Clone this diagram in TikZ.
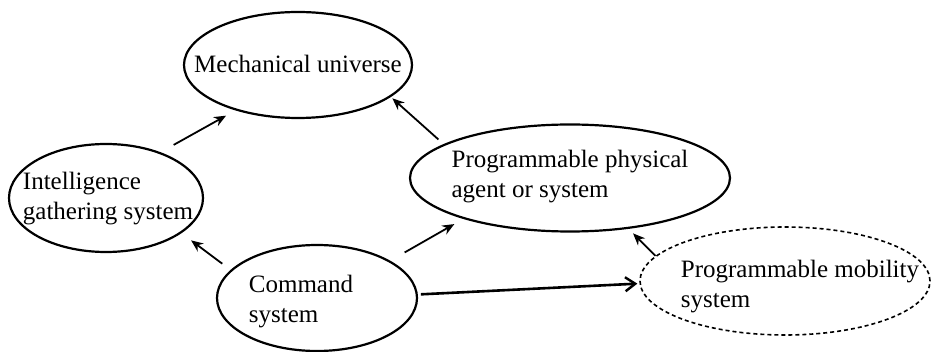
\documentclass[tikz,border=0pt]{standalone}
\usepackage{fontspec}
\setmainfont{Liberation Serif}
\usetikzlibrary{shapes.geometric,arrows.meta}

\begin{document}
\begin{tikzpicture}[x=0.5pt,y=-0.5pt,
  blob/.style={ellipse, draw, line width=1.1pt, inner sep=0pt},
  words/.style={align=left, font=\fontsize{12.5}{15}\selectfont, inner sep=0pt},
  link/.style={-{Stealth[length=6pt,width=5pt]}, line width=0.9pt}]
  \useasboundingbox (0,0) rectangle (931,352);
  % the five parts
  \node[blob, minimum width=114pt, minimum height=53pt] (mech) at (298,65) {};
  \node[words] (mechtext) at (298,64) {Mechanical universe};
  \node[blob, minimum width=97pt, minimum height=54pt] (intel) at (106,198) {};
  \node[words] (inteltext) at (108,199) {Intelligence\\gathering system};
  \node[blob, minimum width=160pt, minimum height=53.5pt] (phys) at (570,178) {};
  \node[words] (phystext) at (570,177) {Programmable physical\\agent or system};
  \node[blob, minimum width=100pt, minimum height=53pt] (cmd) at (317,298) {};
  \node[words] (cmdtext) at (301,302) {Command\\system};
  \node[blob, dashed, dash pattern=on 2pt off 1.5pt, line width=0.8pt,
        minimum width=145pt, minimum height=54pt] (mob) at (785,281) {};
  \node[words] (mobtext) at (800,287) {Programmable mobility\\system};
  % links
  \draw[link, shorten <=7.5pt, shorten >=5.4pt] (intel.40.7) -- (mech.216.1);
  \draw[link, shorten <=3.5pt, shorten >=1pt] (phys.165) -- (mech.341);
  \draw[link, shorten <=5.2pt, shorten >=6pt] (cmd.162) -- (intel.335);
  \draw[link, shorten <=8.3pt, shorten >=5.2pt] (cmd.27.6) -- (phys.201);
  \draw[link, -{Straight Barb[length=5pt,width=7pt,line width=1.2pt]}, line width=1.3pt,
        shorten <=1.5pt, shorten >=1pt] (cmd.2) -- (mob.181.5);
  \draw[link, shorten >=3.2pt] (mob.169) -- (phys.319.4);
\end{tikzpicture}
\end{document}
